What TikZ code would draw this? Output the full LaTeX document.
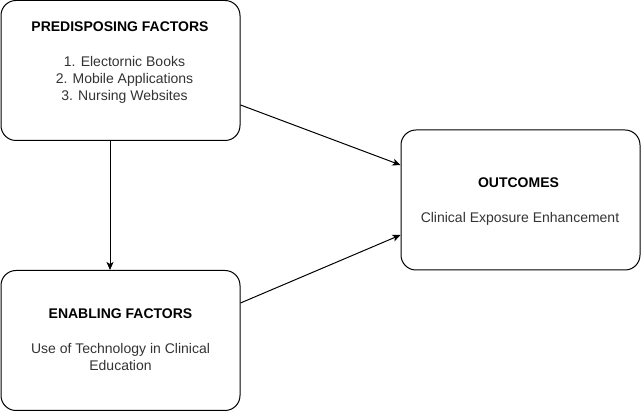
\documentclass[tikz,border=0pt]{standalone}
\usepackage{fontspec}
\setmainfont{Liberation Sans}
\usetikzlibrary{positioning,arrows.meta}
\definecolor{bodygray}{HTML}{333333}

\begin{document}
\begin{tikzpicture}[x=1pt, y=-1pt,
    box/.style={rectangle, rounded corners=15pt, draw=black, line width=1pt,
                minimum width=239pt, minimum height=140pt, inner sep=0pt},
    heading/.style={font=\fontsize{14}{16}\selectfont\bfseries, anchor=base, inner sep=0pt},
    body/.style={font=\fontsize{14}{16.7}\selectfont, text=bodygray, align=center,
                 anchor=north, inner sep=0pt},
    connect/.style={-{Stealth[length=8pt, width=7pt, inset=2pt]}, line width=1pt}]

    \useasboundingbox (0,0) rectangle (641,411);

    \node[box] (pred) at (120.5,70.5) {};
    \node[box] (enab) [below=129pt of pred] {};
    \node[box] (outc) at (520.5,200) {};

    \node[heading] (predtitle) at (120,32) {PREDISPOSING FACTORS};
    \node[body] (predlist) at (124.5,56.5) {1. Electornic Books\\2. Mobile Applications\\3. Nursing Websites};

    \node[heading] (enabtitle) at (120.5,319) {ENABLING FACTORS};
    \node[body] (enabtext) at (120.5,343.5) {Use of Technology in Clinical\\Education};

    \node[heading] (outctitle) at (518.5,188) {OUTCOMES};
    \node[body] (outctext) at (520,212.5) {Clinical Exposure Enhancement};

    \draw[connect] ([xshift=-10.5pt]pred.south) -- ([xshift=-10.5pt]enab.north);
    \draw[connect] ([yshift=-34.5pt]pred.east) -- ([yshift=35pt]outc.west);
    \draw[connect] ([yshift=37.5pt]enab.east) -- ([yshift=-35pt]outc.west);
\end{tikzpicture}
\end{document}
